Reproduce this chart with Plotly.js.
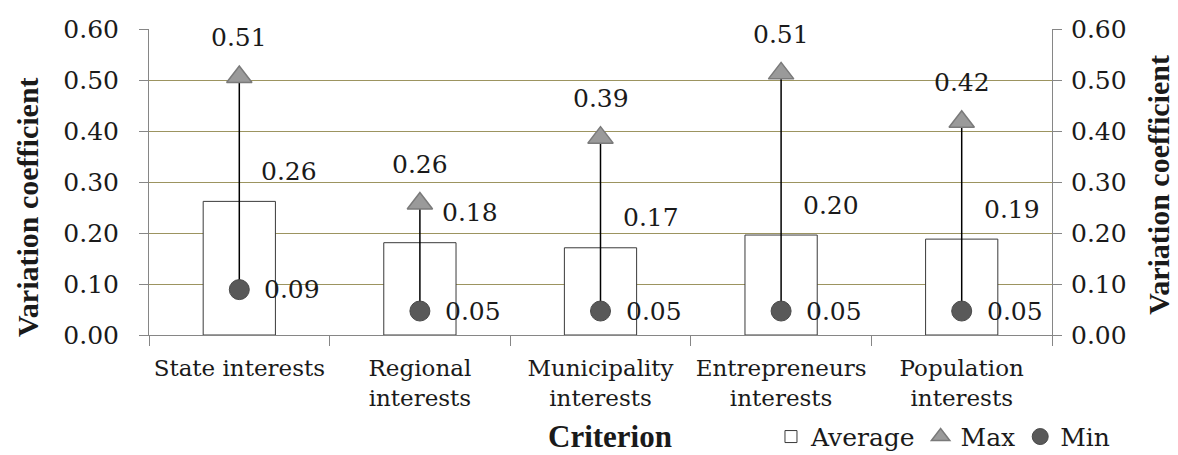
<!DOCTYPE html>
<html>
<head>
<meta charset="utf-8">
<script src="https://cdn.plot.ly/plotly-3.0.1.min.js"></script>
<style>html,body{margin:0;padding:0;background:#fff}#chart{width:1178px;height:455px}</style>
</head>
<body>
<div id="chart"></div>
<script>
const categories = ["State interests", "Regional<br>interests", "Municipality<br>interests", "Entrepreneurs<br>interests", "Population<br>interests"];
const averageValues = [0.262, 0.181, 0.171, 0.196, 0.188];
const maxValues = [0.506, 0.258, 0.387, 0.513, 0.418];
const minValues = [0.089, 0.047, 0.047, 0.047, 0.047];
const yTicks = [0, 0.1, 0.2, 0.3, 0.4, 0.5, 0.6];
const yTitle = 'Variation coefficient';
const xTitle = 'Criterion';

const FONT = 'DejaVu Serif';          // regular serif text
const BOLD = 'Liberation Serif';      // bold titles
const TXT = '#1a1a1a';

// high-low lines built from the data arrays
const lineX = [], lineY = [];
categories.forEach((c, i) => { lineX.push(c, c, null); lineY.push(minValues[i], maxValues[i], null); });

const traces = [
  {type: 'bar', name: 'Average', x: categories, y: averageValues, width: 0.4,
   marker: {color: '#ffffff', line: {color: '#3a3a3a', width: 1}}, hoverinfo: 'skip'},
  {type: 'scatter', mode: 'lines', x: lineX, y: lineY, showlegend: false,
   line: {color: '#000000', width: 1.5}, hoverinfo: 'skip'},
  {type: 'scatter', mode: 'markers', name: 'Max', x: categories, y: maxValues,
   marker: {symbol: 'triangle-up', size: 22, color: '#9a9a9a', line: {color: '#7a7a7a', width: 1.5}}},
  {type: 'scatter', mode: 'markers', name: 'Min', x: categories, y: minValues,
   marker: {symbol: 'circle', size: 20, color: '#595959', line: {color: '#4a4a4a', width: 1}}},
  {type: 'scatter', mode: 'markers', x: categories, y: averageValues, yaxis: 'y2',
   showlegend: false, hoverinfo: 'skip', marker: {opacity: 0, size: 1}}
];

const annotations = [];
const lab = (x, y, v, xs, ys) => annotations.push({x: x, y: y, xref: 'x', yref: 'y', text: v.toFixed(2),
  showarrow: false, xshift: xs, yshift: ys, font: {family: FONT, size: 25, color: TXT}});
categories.forEach((c, i) => {
  lab(c, maxValues[i], maxValues[i], 0, 39);
  lab(c, averageValues[i], averageValues[i], 50, 30);
  lab(c, minValues[i], minValues[i], 53, 0);
});
const titleFont = {family: BOLD, size: 30, color: TXT, weight: 'bold'};
annotations.push({text: yTitle, textangle: -90, xref: 'paper', yref: 'paper', x: -0.1351, y: 0.418,
  xanchor: 'center', yanchor: 'middle', showarrow: false, font: titleFont});
annotations.push({text: yTitle, textangle: -90, xref: 'paper', yref: 'paper', x: 1.117, y: 0.49,
  xanchor: 'center', yanchor: 'middle', showarrow: false, font: titleFont});
annotations.push({text: xTitle, xref: 'paper', yref: 'paper', x: 0.5105, y: -0.333,
  xanchor: 'center', yanchor: 'middle', showarrow: false, font: Object.assign({}, titleFont, {size: 31})});

const axisCommon = {
  range: [0, 0.6], tickvals: yTicks, tickformat: '.2f', showline: true, linecolor: '#868686', linewidth: 1,
  ticks: 'outside', ticklen: 9, tickcolor: '#868686', zeroline: false, automargin: false,
  tickfont: {family: FONT, size: 25, color: TXT}
};

const layout = {
  width: 1178, height: 455,
  margin: {l: 149, r: 126, t: 29, b: 120},
  paper_bgcolor: '#ffffff', plot_bgcolor: '#ffffff',
  font: {family: FONT, color: TXT},
  showlegend: true,
  bargap: 0.6,
  xaxis: {
    showline: true, linecolor: '#868686', linewidth: 1, ticks: 'outside', ticklen: 10, tickcolor: '#868686',
    tickson: 'boundaries', tickfont: {family: FONT, size: 23, color: TXT}, showgrid: false,
    ticklabelstandoff: 12, automargin: false
  },
  yaxis: Object.assign({}, axisCommon, {
    showgrid: true, gridcolor: '#9C9460', gridwidth: 1, ticklabelstandoff: 15
  }),
  yaxis2: Object.assign({}, axisCommon, {
    overlaying: 'y', side: 'right', showgrid: false, ticklabelstandoff: 4
  }),
  legend: {orientation: 'h', xref: 'container', yref: 'container', x: 0.9465, xanchor: 'right', y: 0.04, yanchor: 'middle',
    font: {family: FONT, size: 25, color: TXT}, itemwidth: 30, bgcolor: 'rgba(0,0,0,0)', tracegroupgap: 0},
  annotations: annotations
};

Plotly.newPlot('chart', traces, layout, {staticPlot: true, displayModeBar: false});
</script>
</body>
</html>
